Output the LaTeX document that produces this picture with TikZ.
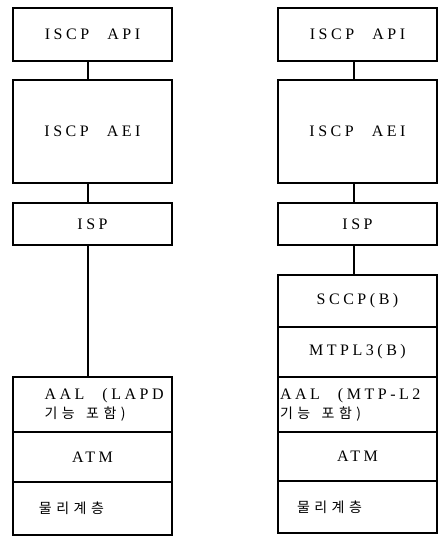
\documentclass[tikz,border=0pt]{standalone}
\usepackage{fontspec}
\setmainfont{Liberation Serif}[LetterSpace=22,WordSpace=2.4]
\newfontfamily\kr{Noto Sans CJK KR}[LetterSpace=32,WordSpace=1.5]
\usetikzlibrary{positioning}
\tikzset{
  layer/.style={rectangle,draw=black,line width=1.6pt,minimum width=159pt,outer sep=0pt,
    inner sep=2pt,align=center,font=\fontsize{16}{19}\selectfont},
  link/.style={line width=2pt},
  hangul/.style={font=\kr\fontsize{14}{16}\selectfont,align=flush left,text width=155pt},
}
\begin{document}
\begin{tikzpicture}[node distance=0pt]
  \useasboundingbox (0,0) rectangle (441pt,-538pt);
  % left stack
  \node[layer,minimum height=53pt] (lapi) at (92.5pt,-34.5pt) {ISCP API};
  \node[layer,minimum height=103pt,below=19pt of lapi] (laei) {ISCP AEI};
  \node[layer,minimum height=42pt,below=20pt of laei] (lisp) {ISP};
  \node[layer,minimum height=55pt,align=flush left,text width=96pt] (laal) at (92.5pt,-404.5pt)
    {\mbox{AAL (LAPD}\\{\kr\fontsize{14}{16}\selectfont 기능 포함)}};
  \node[layer,minimum height=50pt,below=of laal] (latm) {ATM};
  \node[layer,minimum height=53pt,below=of latm,hangul] (lphy) {\hspace*{24pt}물리계층};
  % right stack
  \node[layer,minimum height=53pt] (rapi) at (357.5pt,-34.5pt) {ISCP API};
  \node[layer,minimum height=103pt,below=19pt of rapi] (raei) {ISCP AEI};
  \node[layer,minimum height=42pt,below=20pt of raei] (risp) {ISP};
  \node[layer,minimum height=52pt,below=30pt of risp] (rsccp) {SCCP(B)};
  \node[layer,minimum height=50pt,below=of rsccp] (rmtp) {MTPL3(B)};
  \node[layer,minimum height=55pt,align=flush left,text width=155pt,below=of rmtp] (raal)
    {\mbox{AAL (MTP-L2}\\{\kr\fontsize{14}{16}\selectfont 기능 포함)}};
  \node[layer,minimum height=49pt,below=of raal] (ratm) {ATM};
  \node[layer,minimum height=52pt,below=of ratm,hangul] (rphy) {\hspace*{17pt}물리계층};
  % links, a little left of centre
  \draw[link] ([xshift=-4.5pt]lapi.south) -- ([xshift=-4.5pt]laei.north);
  \draw[link] ([xshift=-4.5pt]laei.south) -- ([xshift=-4.5pt]lisp.north);
  \draw[link] ([xshift=-4.5pt]lisp.south) -- ([xshift=-4.5pt]laal.north);
  \draw[link] ([xshift=-3.5pt]rapi.south) -- ([xshift=-3.5pt]raei.north);
  \draw[link] ([xshift=-3.5pt]raei.south) -- ([xshift=-3.5pt]risp.north);
  \draw[link] ([xshift=-3.5pt]risp.south) -- ([xshift=-3.5pt]rsccp.north);
\end{tikzpicture}
\end{document}
